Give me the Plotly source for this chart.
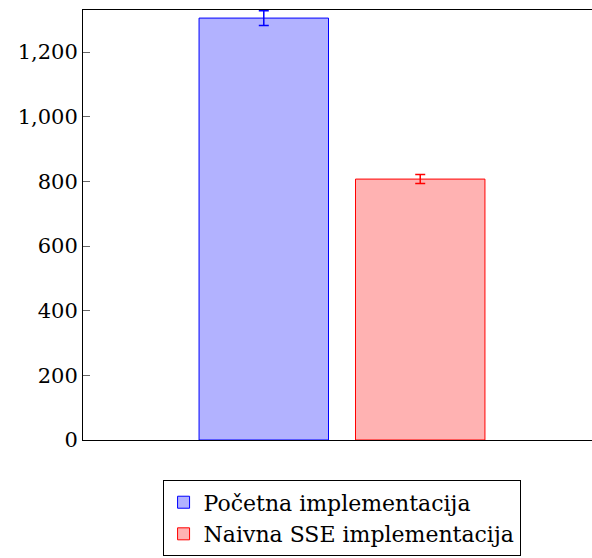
import plotly.graph_objects as go

categories = ["Test"]
series_names = ["Početna implementacija", "Naivna SSE implementacija"]
values_pocetna = [1305]
errors_pocetna = [23]
values_sse = [807]
errors_sse = [14]
y_ticks = [0, 200, 400, 600, 800, 1000, 1200]

FONT = "DejaVu Serif"

fig = go.Figure()
fig.add_trace(go.Bar(
    x=categories, y=values_pocetna, name=series_names[0],
    marker=dict(color="rgba(0,0,255,0.3)", line=dict(color="blue", width=1)),
    error_y=dict(type="data", array=errors_pocetna, visible=True,
                 color="blue", thickness=1.5, width=5),
))
fig.add_trace(go.Bar(
    x=categories, y=values_sse, name=series_names[1],
    marker=dict(color="rgba(255,0,0,0.3)", line=dict(color="red", width=1)),
    error_y=dict(type="data", array=errors_sse, visible=True,
                 color="red", thickness=1.5, width=5),
))

fig.update_layout(
    width=592, height=558,
    margin=dict(l=83, r=0, t=10, b=118),
    paper_bgcolor="white", plot_bgcolor="white",
    barmode="group", bargap=0.396, bargroupgap=0.1725,
    font=dict(family=FONT, size=21, color="black"),
    showlegend=True,
    legend=dict(
        x=0.508, xanchor="center", y=-0.094, yanchor="top",
        bordercolor="black", borderwidth=1, bgcolor="white",
        font=dict(family=FONT, size=22, color="black"),
        tracegroupgap=0,
    ),
    xaxis=dict(
        type="category", range=[-0.5, 0.4826],
        showticklabels=False, ticks="", showgrid=False, zeroline=False,
        showline=True, linecolor="black", linewidth=1, mirror=True,
    ),
    yaxis=dict(
        range=[0, 1330], tickvals=y_ticks, tickformat=",",
        ticks="inside", ticklen=7, tickcolor="#666", tickwidth=1,
        showgrid=False, zeroline=False,
        showline=True, linecolor="black", linewidth=1,
        tickfont=dict(family=FONT, size=21, color="black"),
    ),
    yaxis2=dict(
        overlaying="y", side="right", anchor="x", range=[0, 1330],
        tickvals=y_ticks, showticklabels=False,
        ticks="inside", ticklen=3, tickcolor="#888", tickwidth=1,
        showgrid=False, zeroline=False, showline=False,
    ),
)

fig.write_html(
    "out.html",
    config={"displayModeBar": False},
    post_script="document.body.style.margin='0';document.body.style.overflow='hidden';",
)
